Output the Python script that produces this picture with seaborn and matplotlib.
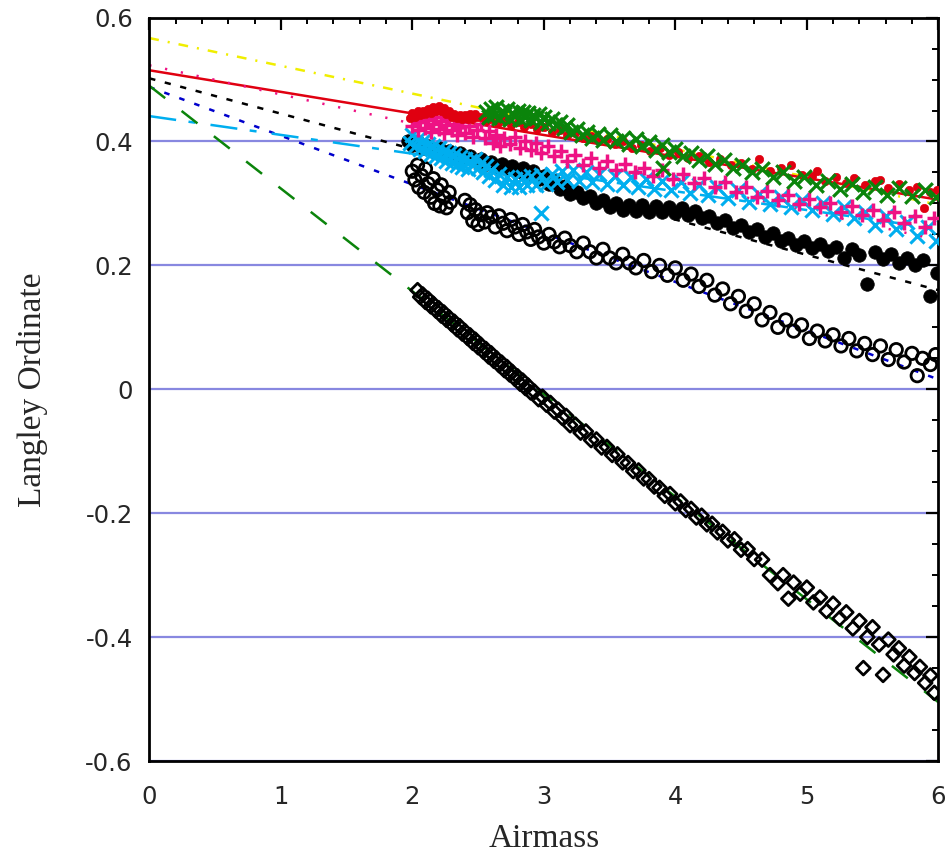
import matplotlib
matplotlib.use("Agg")
import matplotlib.pyplot as plt
import seaborn as sns
from matplotlib.ticker import MultipleLocator, FuncFormatter

# Langley fit lines, values at airmass 0 and 6
fit_x = [0, 6]
yellow_fit = [0.567, 0.298]
red_fit = [0.515, 0.306]
pink_fit = [0.523, 0.241]
black_fit = [0.502, 0.160]
blue_fit = [0.488, 0.016]
cyan_fit = [0.441, 0.259]
green_fit = [0.490, -0.505]

# green crosses
green_x = [2.56, 2.58, 2.60, 2.62, 2.64, 2.66, 2.68, 2.70, 2.72, 2.74, 2.76, 2.78, 2.80, 2.82,
           2.84, 2.86, 2.88, 2.90, 2.92, 2.94, 2.96, 2.98, 3.00, 3.03, 3.06, 3.09, 3.12, 3.15,
           3.18, 3.21, 3.25, 3.29, 3.33, 3.37, 3.41, 3.45, 3.50, 3.55, 3.60, 3.65, 3.70, 3.75,
           3.80, 3.85, 3.90, 3.91, 3.95, 4.00, 4.06, 4.12, 4.18, 4.24, 4.30, 4.37, 4.44, 4.51,
           4.58, 4.66, 4.74, 4.82, 4.90, 4.98, 5.07, 5.16, 5.25, 5.34, 5.43, 5.52, 5.61, 5.70,
           5.80, 5.90, 5.98]
green_y = [0.448, 0.440, 0.452, 0.443, 0.455, 0.438, 0.449, 0.444, 0.452, 0.437, 0.446, 0.441,
           0.450, 0.436, 0.447, 0.440, 0.446, 0.434, 0.443, 0.438, 0.445, 0.432, 0.440, 0.430,
           0.437, 0.426, 0.432, 0.421, 0.427, 0.416, 0.420, 0.410, 0.416, 0.405, 0.412, 0.402,
           0.410, 0.400, 0.406, 0.396, 0.404, 0.392, 0.399, 0.387, 0.394, 0.357, 0.383, 0.388,
           0.377, 0.382, 0.370, 0.376, 0.364, 0.370, 0.357, 0.362, 0.350, 0.356, 0.343, 0.350,
           0.336, 0.342, 0.330, 0.337, 0.324, 0.331, 0.319, 0.327, 0.314, 0.325, 0.312, 0.322,
           0.310]

# red dots
red_x = [1.98, 2.00, 2.02, 2.04, 2.06, 2.08, 2.10, 2.12, 2.14, 2.16, 2.18, 2.20, 2.22, 2.24,
         2.26, 2.28, 2.30, 2.32, 2.34, 2.36, 2.38, 2.40, 2.42, 2.44, 2.46, 2.48, 2.50, 2.53,
         2.56, 2.60, 2.65, 2.70, 2.75, 2.80, 2.85, 2.90, 2.95, 3.00, 3.06, 3.12, 3.18, 3.24,
         3.30, 3.36, 3.42, 3.48, 3.54, 3.60, 3.67, 3.74, 3.81, 3.88, 3.95, 4.02, 4.10, 4.18,
         4.26, 4.34, 4.42, 4.50, 4.58, 4.64, 4.72, 4.80, 4.88, 4.96, 5.04, 5.08, 5.14, 5.22,
         5.30, 5.36, 5.44, 5.52, 5.56, 5.62, 5.70, 5.78, 5.84, 5.89, 5.94, 5.99]
red_y = [0.438, 0.446, 0.440, 0.449, 0.442, 0.450, 0.444, 0.452, 0.446, 0.455, 0.449, 0.457,
         0.450, 0.454, 0.445, 0.449, 0.440, 0.445, 0.438, 0.443, 0.436, 0.442, 0.437, 0.444,
         0.438, 0.445, 0.439, 0.440, 0.433, 0.437, 0.430, 0.434, 0.427, 0.431, 0.424, 0.428,
         0.420, 0.424, 0.415, 0.419, 0.410, 0.414, 0.405, 0.409, 0.400, 0.404, 0.396, 0.400,
         0.390, 0.394, 0.385, 0.389, 0.379, 0.383, 0.373, 0.377, 0.367, 0.371, 0.362, 0.366,
         0.356, 0.372, 0.352, 0.357, 0.362, 0.346, 0.344, 0.352, 0.337, 0.343, 0.333, 0.341,
         0.330, 0.336, 0.338, 0.325, 0.331, 0.321, 0.327, 0.293, 0.318, 0.322]

# pink plus signs
pink_x = [2.00, 2.02, 2.04, 2.06, 2.08, 2.10, 2.12, 2.14, 2.16, 2.18, 2.20, 2.22, 2.24, 2.26,
          2.28, 2.30, 2.32, 2.34, 2.36, 2.38, 2.40, 2.43, 2.46, 2.49, 2.52, 2.55, 2.58, 2.61,
          2.64, 2.67, 2.70, 2.74, 2.78, 2.82, 2.86, 2.90, 2.94, 2.98, 3.03, 3.08, 3.13, 3.18,
          3.24, 3.30, 3.36, 3.42, 3.48, 3.55, 3.62, 3.69, 3.76, 3.83, 3.90, 3.98, 4.06, 4.14,
          4.22, 4.30, 4.38, 4.46, 4.54, 4.62, 4.70, 4.78, 4.86, 4.94, 5.02, 5.10, 5.18, 5.26,
          5.34, 5.42, 5.50, 5.58, 5.66, 5.74, 5.82, 5.90, 5.97]
pink_y = [0.425, 0.437, 0.418, 0.432, 0.441, 0.422, 0.435, 0.415, 0.429, 0.440, 0.420, 0.433,
          0.414, 0.427, 0.436, 0.418, 0.429, 0.411, 0.424, 0.432, 0.413, 0.425, 0.407, 0.419,
          0.428, 0.405, 0.417, 0.398, 0.411, 0.392, 0.405, 0.396, 0.408, 0.390, 0.401, 0.386,
          0.397, 0.381, 0.392, 0.376, 0.385, 0.368, 0.378, 0.362, 0.373, 0.358, 0.368, 0.354,
          0.364, 0.350, 0.358, 0.345, 0.354, 0.340, 0.348, 0.333, 0.341, 0.326, 0.334, 0.318,
          0.327, 0.311, 0.320, 0.305, 0.314, 0.299, 0.307, 0.294, 0.301, 0.287, 0.296, 0.281,
          0.290, 0.274, 0.286, 0.268, 0.280, 0.262, 0.276]

# cyan crosses
cyan_x = [1.98, 2.00, 2.02, 2.04, 2.06, 2.08, 2.10, 2.12, 2.14, 2.16, 2.18, 2.20, 2.22, 2.24,
          2.26, 2.28, 2.30, 2.32, 2.34, 2.36, 2.38, 2.40, 2.42, 2.44, 2.46, 2.48, 2.50, 2.52,
          2.54, 2.56, 2.58, 2.60, 2.63, 2.66, 2.69, 2.72, 2.75, 2.78, 2.81, 2.84, 2.87, 2.90,
          2.94, 2.98, 2.98, 3.02, 3.06, 3.10, 3.14, 3.18, 3.22, 3.27, 3.32, 3.37, 3.42, 3.48,
          3.54, 3.60, 3.66, 3.72, 3.78, 3.84, 3.90, 3.97, 4.04, 4.11, 4.18, 4.25, 4.32, 4.40,
          4.48, 4.56, 4.64, 4.72, 4.80, 4.88, 4.96, 5.04, 5.12, 5.20, 5.28, 5.36, 5.44, 5.52,
          5.60, 5.68, 5.76, 5.84, 5.92, 5.98]
cyan_y = [0.398, 0.410, 0.392, 0.404, 0.388, 0.400, 0.384, 0.396, 0.380, 0.392, 0.376, 0.389,
          0.373, 0.385, 0.369, 0.381, 0.366, 0.378, 0.362, 0.375, 0.359, 0.371, 0.356, 0.369,
          0.362, 0.372, 0.358, 0.366, 0.350, 0.360, 0.344, 0.354, 0.338, 0.348, 0.330, 0.342,
          0.326, 0.340, 0.327, 0.343, 0.329, 0.345, 0.330, 0.346, 0.284, 0.332, 0.348, 0.335,
          0.352, 0.338, 0.354, 0.337, 0.350, 0.334, 0.347, 0.331, 0.345, 0.330, 0.343, 0.327,
          0.340, 0.324, 0.337, 0.321, 0.334, 0.317, 0.330, 0.313, 0.326, 0.309, 0.321, 0.303,
          0.316, 0.299, 0.311, 0.294, 0.305, 0.289, 0.300, 0.283, 0.294, 0.276, 0.287, 0.266,
          0.279, 0.258, 0.270, 0.247, 0.262, 0.240]

# filled black circles
dot_x = [1.97, 2.00, 2.04, 2.08, 2.12, 2.16, 2.20, 2.24, 2.28, 2.32, 2.36, 2.40, 2.44, 2.48,
         2.52, 2.56, 2.60, 2.64, 2.68, 2.72, 2.76, 2.80, 2.84, 2.88, 2.92, 2.96, 3.00, 3.04,
         3.08, 3.12, 3.16, 3.20, 3.25, 3.30, 3.35, 3.40, 3.45, 3.50, 3.55, 3.60, 3.65, 3.70,
         3.75, 3.80, 3.85, 3.90, 3.95, 4.00, 4.05, 4.10, 4.15, 4.20, 4.26, 4.32, 4.38, 4.44,
         4.50, 4.56, 4.62, 4.68, 4.74, 4.80, 4.86, 4.92, 4.98, 5.04, 5.10, 5.16, 5.22, 5.28,
         5.34, 5.40, 5.46, 5.52, 5.58, 5.64, 5.70, 5.76, 5.82, 5.88, 5.94, 5.99]
dot_y = [0.400, 0.395, 0.399, 0.390, 0.393, 0.385, 0.389, 0.381, 0.385, 0.377, 0.381, 0.373,
         0.377, 0.368, 0.372, 0.363, 0.367, 0.359, 0.364, 0.355, 0.360, 0.352, 0.357, 0.348,
         0.352, 0.340, 0.344, 0.332, 0.336, 0.324, 0.328, 0.316, 0.319, 0.308, 0.312, 0.300,
         0.305, 0.295, 0.300, 0.290, 0.298, 0.288, 0.297, 0.287, 0.296, 0.286, 0.295, 0.285,
         0.293, 0.281, 0.288, 0.276, 0.280, 0.268, 0.273, 0.261, 0.266, 0.254, 0.259, 0.246,
         0.252, 0.240, 0.245, 0.233, 0.240, 0.228, 0.234, 0.224, 0.230, 0.212, 0.226, 0.216,
         0.170, 0.222, 0.210, 0.218, 0.204, 0.212, 0.200, 0.208, 0.151, 0.188]

# open black circles
ring_x = [2.00, 2.02, 2.04, 2.05, 2.07, 2.09, 2.10, 2.12, 2.14, 2.16, 2.17, 2.19, 2.21, 2.22,
          2.24, 2.26, 2.28, 2.29, 2.40, 2.42, 2.44, 2.46, 2.48, 2.50, 2.52, 2.55, 2.57, 2.60,
          2.63, 2.66, 2.69, 2.72, 2.75, 2.78, 2.81, 2.84, 2.87, 2.90, 2.93, 2.96, 3.00, 3.04,
          3.08, 3.12, 3.16, 3.20, 3.25, 3.30, 3.35, 3.40, 3.45, 3.50, 3.55, 3.60, 3.65, 3.70,
          3.76, 3.82, 3.88, 3.94, 4.00, 4.06, 4.12, 4.18, 4.24, 4.30, 4.36, 4.42, 4.48, 4.54,
          4.60, 4.66, 4.72, 4.78, 4.84, 4.90, 4.96, 5.02, 5.08, 5.14, 5.20, 5.26, 5.32, 5.38,
          5.44, 5.50, 5.56, 5.62, 5.68, 5.74, 5.80, 5.84, 5.88, 5.94, 5.98]
ring_y = [0.352, 0.338, 0.362, 0.326, 0.345, 0.318, 0.356, 0.332, 0.310, 0.340, 0.300, 0.322,
          0.296, 0.330, 0.310, 0.293, 0.318, 0.302, 0.305, 0.285, 0.298, 0.272, 0.290, 0.266,
          0.282, 0.270, 0.285, 0.278, 0.262, 0.280, 0.268, 0.256, 0.274, 0.262, 0.250, 0.266,
          0.254, 0.242, 0.258, 0.246, 0.236, 0.250, 0.238, 0.230, 0.244, 0.232, 0.222, 0.236,
          0.222, 0.212, 0.226, 0.212, 0.204, 0.218, 0.204, 0.196, 0.208, 0.190, 0.200, 0.184,
          0.196, 0.176, 0.186, 0.166, 0.176, 0.152, 0.162, 0.138, 0.150, 0.126, 0.138, 0.112,
          0.124, 0.100, 0.112, 0.094, 0.104, 0.082, 0.094, 0.078, 0.088, 0.070, 0.082, 0.062,
          0.074, 0.056, 0.070, 0.048, 0.064, 0.044, 0.058, 0.022, 0.050, 0.040, 0.056]

# open black diamonds
diam_x = [2.04, 2.06, 2.08, 2.10, 2.12, 2.14, 2.16, 2.18, 2.20, 2.22, 2.24, 2.26, 2.28, 2.30,
          2.32, 2.34, 2.36, 2.38, 2.40, 2.42, 2.44, 2.46, 2.48, 2.50, 2.52, 2.54, 2.56, 2.58,
          2.60, 2.62, 2.64, 2.66, 2.68, 2.70, 2.72, 2.74, 2.76, 2.78, 2.80, 2.82, 2.84, 2.86,
          2.88, 2.90, 2.93, 2.96, 2.99, 3.02, 3.05, 3.08, 3.11, 3.14, 3.17, 3.20, 3.24, 3.28,
          3.32, 3.36, 3.40, 3.44, 3.48, 3.52, 3.56, 3.60, 3.64, 3.68, 3.72, 3.76, 3.80, 3.84,
          3.88, 3.92, 3.96, 4.00, 4.04, 4.08, 4.12, 4.16, 4.20, 4.24, 4.28, 4.32, 4.36, 4.40,
          4.45, 4.50, 4.55, 4.60, 4.66, 4.72, 4.78, 4.82, 4.86, 4.90, 4.95, 5.00, 5.05, 5.10,
          5.15, 5.20, 5.25, 5.30, 5.35, 5.40, 5.43, 5.46, 5.50, 5.55, 5.58, 5.62, 5.66, 5.70,
          5.74, 5.78, 5.82, 5.86, 5.90, 5.94, 5.97]
diam_y = [0.160, 0.149, 0.153, 0.141, 0.146, 0.134, 0.138, 0.127, 0.131, 0.119, 0.124, 0.112,
          0.116, 0.105, 0.109, 0.097, 0.102, 0.090, 0.094, 0.083, 0.087, 0.075, 0.080, 0.068,
          0.072, 0.061, 0.065, 0.053, 0.058, 0.046, 0.050, 0.039, 0.043, 0.031, 0.036, 0.024,
          0.028, 0.017, 0.021, 0.009, 0.014, 0.002, 0.006, -0.005, -0.004, -0.016, -0.012,
          -0.025, -0.022, -0.036, -0.033, -0.046, -0.043, -0.058, -0.057, -0.070, -0.068,
          -0.082, -0.081, -0.094, -0.093, -0.106, -0.105, -0.118, -0.119, -0.132, -0.131,
          -0.144, -0.145, -0.157, -0.159, -0.172, -0.169, -0.184, -0.181, -0.195, -0.193,
          -0.207, -0.204, -0.218, -0.217, -0.231, -0.230, -0.244, -0.242, -0.259, -0.258,
          -0.274, -0.275, -0.300, -0.313, -0.300, -0.338, -0.312, -0.330, -0.320, -0.344,
          -0.336, -0.358, -0.346, -0.370, -0.360, -0.386, -0.374, -0.450, -0.400, -0.384,
          -0.412, -0.461, -0.404, -0.428, -0.418, -0.446, -0.432, -0.458, -0.448, -0.474,
          -0.462, -0.490]

sns.set_style("white")
plt.rcParams["font.family"] = ["DejaVu Sans"]
plt.rcParams["axes.unicode_minus"] = False
plt.rcParams["lines.scale_dashes"] = False

fig = plt.figure(figsize=(9.47, 8.55), dpi=100)
ax = fig.add_axes([149.3 / 947, 1 - 761 / 855, 789 / 947, 743.4 / 855])

# fit lines (under the data)
fits = [
    (yellow_fit, "#f0ee00", (0, (7, 6.5, 1.5, 6.5))),
    (red_fit, "#e00010", "-"),
    (pink_fit, "#ee1284", (0, (1.6, 10))),
    (black_fit, "black", (0, (4.5, 7))),
    (blue_fit, "#0000cc", (0, (4, 7.5))),
    (cyan_fit, "#00aeef", (0, (19.5, 9, 5, 11))),
    (green_fit, "#0b840b", (0, (14.5, 15))),
]
for vals, col, ls in fits:
    sns.lineplot(x=fit_x, y=vals, color=col, linewidth=1.8, linestyle=ls,
                 errorbar=None, zorder=2, ax=ax)

sns.scatterplot(x=diam_x, y=diam_y, marker="D", s=50, color="black",
                facecolor="none", edgecolor="black", linewidth=2.0, zorder=3, ax=ax)
sns.scatterplot(x=ring_x, y=ring_y, marker="o", s=80, color="black",
                facecolor="none", edgecolor="black", linewidth=2.0, zorder=3, ax=ax)
sns.scatterplot(x=dot_x, y=dot_y, marker="o", s=95, color="black",
                edgecolor="black", linewidth=0.5, zorder=4, ax=ax)
sns.scatterplot(x=cyan_x, y=cyan_y, marker="x", s=105, color="#00aeef",
                linewidth=2.2, zorder=5, ax=ax)
sns.scatterplot(x=pink_x, y=pink_y, marker="+", s=105, color="#ee1284",
                linewidth=2.5, zorder=6, ax=ax)
sns.scatterplot(x=red_x, y=red_y, marker="o", s=36, color="#e00010",
                edgecolor="#e00010", linewidth=0.5, zorder=7, ax=ax)
sns.scatterplot(x=green_x, y=green_y, marker="x", s=110, color="#0b840b",
                linewidth=2.3, zorder=8, ax=ax)

ax.set_xlim(0, 6)
ax.set_ylim(-0.6, 0.6)
ax.xaxis.set_major_locator(MultipleLocator(1))
ax.xaxis.set_minor_locator(MultipleLocator(0.2))
ax.yaxis.set_major_locator(MultipleLocator(0.2))
ax.yaxis.set_minor_locator(MultipleLocator(0.05))
ax.yaxis.set_major_formatter(FuncFormatter(lambda v, p: "0" if abs(v) < 1e-9 else f"{v:.1f}"))

ax.set_axisbelow(True)
ax.yaxis.grid(True, which="major", color="#8888e0", linewidth=1.6)
ax.xaxis.grid(False)

for sp in ax.spines.values():
    sp.set_linewidth(2.0)
    sp.set_color("black")

ax.tick_params(which="both", direction="in", top=True, right=True, color="black")
ax.tick_params(which="major", length=8.5, width=1.6, labelsize=17.5)
ax.tick_params(which="minor", length=4.5, width=1.4)
ax.tick_params(axis="x", which="major", pad=17)
ax.tick_params(axis="y", which="major", pad=12)

ax.set_xlabel("Airmass", family="Liberation Serif", fontsize=24, labelpad=11)
ax.set_ylabel("Langley Ordinate", family="Liberation Serif", fontsize=24, labelpad=27)

fig.savefig("out.png", dpi=100)
